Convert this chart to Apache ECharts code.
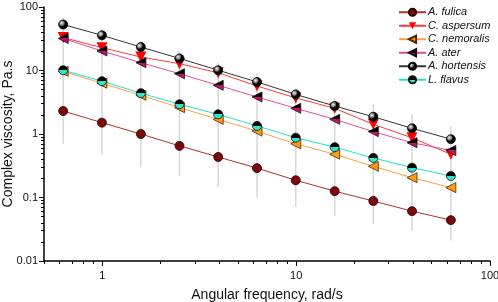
<!DOCTYPE html>
<html>
<head>
<meta charset="utf-8">
<script src="https://cdn.jsdelivr.net/npm/echarts@6/dist/echarts.min.js"></script>
<style>
  html, body { margin: 0; padding: 0; background: #fff; }
  #chart { width: 498px; height: 302px; }
</style>
</head>
<body>
<div id="chart"></div>
<script>
// angular frequency, rad/s
const freq = [0.628, 0.995, 1.58, 2.5, 3.96, 6.28, 9.95, 15.8, 25, 39.6, 62.8];

// complex viscosity, Pa.s
const fulica    = [2.3, 1.51, 1.0, 0.65, 0.435, 0.29, 0.187, 0.126, 0.088, 0.061, 0.044];
const aspersum  = [33, 22.9, 16.3, 12.8, 9.2, 5.7, 3.7, 2.54, 1.42, 0.87, 0.48];
const nemoralis = [9.7, 6.3, 4.07, 2.6, 1.7, 1.11, 0.7, 0.48, 0.31, 0.205, 0.143];
const ater      = [32, 20.3, 13.3, 8.9, 5.85, 3.83, 2.54, 1.7, 1.09, 0.73, 0.55];
const hortensis = [53, 35.8, 23.4, 15.5, 10.1, 6.6, 4.2, 2.76, 1.87, 1.23, 0.83];
const flavus    = [10.1, 6.8, 4.4, 2.94, 2.04, 1.34, 0.875, 0.62, 0.42, 0.295, 0.218];

// grey error bar extent at each frequency
const errHigh = [67.8, 45, 29, 20.3, 13.1, 9.1, 5.1, 3.7, 2.97, 2.07, 1.34];
const errLow  = [0.70, 0.47, 0.30, 0.218, 0.146, 0.098, 0.071, 0.051, 0.038, 0.030, 0.021];

// tick labels
const xMajor = [1, 10, 100];
const xMinor = [0.5, 0.6, 0.7, 0.8, 0.9, 2, 3, 4, 5, 6, 7, 8, 9, 20, 30, 40, 50, 60, 70, 80, 90];
const yMajor = [0.01, 0.1, 1, 10, 100];
const yMinor = [0.02, 0.03, 0.04, 0.05, 0.06, 0.07, 0.08, 0.09,
                0.2, 0.3, 0.4, 0.5, 0.6, 0.7, 0.8, 0.9,
                2, 3, 4, 5, 6, 7, 8, 9,
                20, 30, 40, 50, 60, 70, 80, 90];

const pairs = vals => freq.map((f, i) => [f, vals[i]]);

function halves(top, bottom) {
  return {
    type: 'linear', x: 0, y: 0, x2: 0, y2: 1,
    colorStops: [
      { offset: 0, color: top }, { offset: 0.5, color: top },
      { offset: 0.5, color: bottom }, { offset: 1, color: bottom }
    ]
  };
}

const leftTri = 'path://M0,5 L10,0 L10,10 Z';

function lineSeries(name, vals, lineColor, symbol, size, fill, border) {
  return {
    name: name,
    type: 'line',
    data: pairs(vals),
    symbol: symbol,
    symbolSize: size,
    showAllSymbol: true,
    lineStyle: { color: lineColor, width: 1 },
    itemStyle: { color: fill, borderColor: border, borderWidth: border ? 0.8 : 0 },
    emphasis: { disabled: true },
    z: 3
  };
}

const font = 'Liberation Sans, Arial, sans-serif';

let myChart = echarts.init(document.getElementById('chart'));
myChart.setOption({
  animation: false,
  textStyle: { fontFamily: font },
  grid: { left: 44, right: 8, top: 7, bottom: 41, containLabel: false, outerBoundsMode: 'none' },
  legend: {
    left: 393,
    top: 1,
    orient: 'vertical',
    itemWidth: 27,
    itemHeight: 9,
    itemGap: 1,
    textStyle: { fontSize: 11, fontStyle: 'italic', color: '#111', fontFamily: font, lineHeight: 12.5, padding: [0, 0, 0, -3] },
    data: ['A. fulica', 'C. aspersum', 'C. nemoralis', 'A. ater', 'A. hortensis', 'L. flavus']
  },
  xAxis: [{
    type: 'log',
    min: 0.5,
    max: 100,
    name: 'Angular frequency, rad/s',
    nameLocation: 'middle',
    nameGap: 27,
    nameTextStyle: { fontSize: 14, color: '#111' },
    axisLine: { lineStyle: { color: '#000', width: 1.5 } },
    axisTick: { customValues: xMajor, length: 5, lineStyle: { color: '#000', width: 1 } },
    axisLabel: { customValues: xMajor, fontSize: 11, color: '#111', margin: 9 },
    splitLine: { show: false }
  }, {
    type: 'log',
    min: 0.5,
    max: 100,
    position: 'bottom',
    axisLine: { show: false },
    axisTick: { customValues: xMinor, length: 3, lineStyle: { color: '#000', width: 1 } },
    axisLabel: { show: false },
    splitLine: { show: false }
  }],
  yAxis: [{
    type: 'log',
    min: 0.01,
    max: 100,
    name: 'Complex viscosity, Pa.s',
    nameLocation: 'middle',
    nameGap: 29,
    nameMoveOverlap: false,
    nameTextStyle: { fontSize: 14, color: '#111' },
    axisLine: { lineStyle: { color: '#000', width: 1.5 } },
    axisTick: { customValues: yMajor, length: 5, lineStyle: { color: '#000', width: 1 } },
    axisLabel: { customValues: yMajor, fontSize: 11, color: '#111', margin: 6 },
    splitLine: { show: false }
  }, {
    type: 'log',
    min: 0.01,
    max: 100,
    position: 'left',
    axisLine: { show: false },
    axisTick: { customValues: yMinor, length: 3, lineStyle: { color: '#000', width: 1 } },
    axisLabel: { show: false },
    splitLine: { show: false }
  }],
  series: [
    {
      type: 'custom',
      silent: true,
      z: 1,
      data: freq.map((f, i) => [f, errLow[i], errHigh[i]]),
      renderItem: function (params, api) {
        const lo = api.coord([api.value(0), api.value(1)]);
        const hi = api.coord([api.value(0), api.value(2)]);
        return {
          type: 'line',
          shape: { x1: lo[0], y1: lo[1], x2: hi[0], y2: hi[1] },
          style: { stroke: '#d8d8d8', lineWidth: 1.5 }
        };
      }
    },
    lineSeries('A. fulica', fulica, '#b0302c', 'circle', 9, '#7a0a0a', '#2a0000'),
    lineSeries('C. aspersum', aspersum, '#ff3b3b', 'path://M0,0 L10,0 L5,9 Z', 11, '#ff0000', null),
    lineSeries('C. nemoralis', nemoralis, '#ffa040', leftTri, 10, '#ff9a1a', '#4a2a00'),
    lineSeries('A. ater', ater, '#e0509a', leftTri, 10, halves('#000000', '#c0106a'), '#111'),
    lineSeries('A. hortensis', hortensis, '#333333', 'circle', 9,
      { type: 'radial', x: 0.35, y: 0.35, r: 0.6,
        colorStops: [{ offset: 0, color: '#f0f0f0' }, { offset: 0.35, color: '#888' }, { offset: 0.6, color: '#000' }, { offset: 1, color: '#000' }] },
      '#000'),
    lineSeries('L. flavus', flavus, '#1ee6c8', 'circle', 9, halves('#000000', '#2ee8c8'), '#111')
  ]
});
</script>
</body>
</html>
